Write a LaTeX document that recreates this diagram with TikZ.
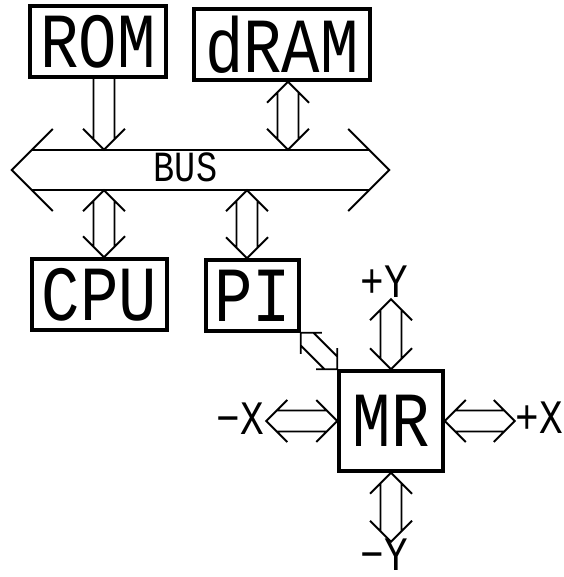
\documentclass[tikz,border=0pt]{standalone}
\usepackage{fontspec}
\usetikzlibrary{calc,positioning}
\newfontfamily\hfont[FakeStretch=0.82]{Liberation Mono}
\newcommand{\bigtxt}{\hfont\fontsize{78}{80}\selectfont}
\newcommand{\axtxt}{\hfont\fontsize{48}{50}\selectfont}
\newcommand{\bustxt}{\hfont\fontsize{43}{44}\selectfont}

\tikzset{
  hw/.code={\def\hw{#1}},
  wing/.code={\def\aw{#1}},
  hw=10.5pt, wing=21pt,
  unit/.style={draw, line width=3.5pt, inner sep=0pt, minimum height=71pt, font=\bigtxt},
  axlbl/.style={anchor=base, inner sep=0pt, font=\axtxt},
  % hollow arrow, heads at both ends
  fat/.style={line width=1.9pt, to path={
    ($(\tikztostart)!\aw!(\tikztotarget)!\aw!90:(\tikztotarget)$) -- (\tikztostart)
      -- ($(\tikztostart)!\aw!(\tikztotarget)!\aw!-90:(\tikztotarget)$)
    ($(\tikztostart)!\hw!(\tikztotarget)!\hw!90:(\tikztotarget)$)
      -- ($(\tikztotarget)!\hw!(\tikztostart)!\hw!-90:(\tikztostart)$)
    ($(\tikztostart)!\hw!(\tikztotarget)!\hw!-90:(\tikztotarget)$)
      -- ($(\tikztotarget)!\hw!(\tikztostart)!\hw!90:(\tikztostart)$)
    ($(\tikztotarget)!\aw!(\tikztostart)!\aw!90:(\tikztostart)$) -- (\tikztotarget)
      -- ($(\tikztotarget)!\aw!(\tikztostart)!\aw!-90:(\tikztostart)$)}},
  % hollow arrow, head at target only
  fatto/.style={line width=1.9pt, to path={
    ($(\tikztostart)!\hw!90:(\tikztotarget)$)
      -- ($(\tikztotarget)!\hw!(\tikztostart)!\hw!-90:(\tikztostart)$)
    ($(\tikztostart)!\hw!-90:(\tikztotarget)$)
      -- ($(\tikztotarget)!\hw!(\tikztostart)!\hw!90:(\tikztostart)$)
    ($(\tikztotarget)!\aw!(\tikztostart)!\aw!90:(\tikztostart)$) -- (\tikztotarget)
      -- ($(\tikztotarget)!\aw!(\tikztostart)!\aw!-90:(\tikztostart)$)}},
}

\begin{document}
\begin{tikzpicture}[x=1pt,y=-1pt]
  \useasboundingbox (0,0) rectangle (563,577);
  % units
  \node[unit, minimum width=136pt] (rom)  at (98,41.5)   {ROM};
  \node[unit, minimum width=176pt] (dram) at (282,44.5)  {dRAM};
  \node[unit, minimum width=135pt] (cpu)  at (99.5,294.5) {CPU};
  \node[unit, minimum width=93pt]  (pi)   at (252.5,295.5) {PI};
  \node[unit, minimum width=104pt, minimum height=100pt] (mr) at (391,421) {MR};
  % bus
  \node[minimum width=377pt, minimum height=40pt, inner sep=0pt] (bus) at (200.5,170) {};
  \node[font=\bustxt, inner sep=0pt] (bustext) at ([xshift=-15pt,yshift=3pt]bus.center) {BUS};
  \draw[fat, hw=20pt, wing=41pt] (bus.west) to (bus.east);
  % arrow axes
  \coordinate (romx)  at (104,0);
  \coordinate (dramx) at (288,0);
  \coordinate (pix)   at (247,0);
  % bus links
  \draw[fatto] (romx |- rom.south) to (romx |- bus.north);
  \draw[fat] (dramx |- dram.south) to (dramx |- bus.north);
  \draw[fat] (romx |- bus.south) to (romx |- cpu.north);
  \draw[fat] (pix |- bus.south) to (pix |- pi.north);
  \draw[fat, hw=9pt, wing=15pt] (pi.south east) to (mr.north west);
  % MR axes
  \coordinate[above=70pt of mr.north] (yp);
  \coordinate[below=69pt of mr.south] (ym);
  \coordinate[left=71pt of mr.west]   (xm);
  \coordinate[right=70pt of mr.east]  (xp);
  \draw[fat] (mr.north) to (yp);
  \draw[fat] (mr.south) to (ym);
  \draw[fat] (mr.west) to (xm);
  \draw[fat] (mr.east) to (xp);
  \node[axlbl] (yplbl) at (384,297) {+Y};
  \node[axlbl] (ymlbl) at (384,570) {−Y};
  \node[axlbl] (xmlbl) at (240.5,434) {−X};
  \node[axlbl] (xplbl) at (539,433) {+X};
\end{tikzpicture}
\end{document}
